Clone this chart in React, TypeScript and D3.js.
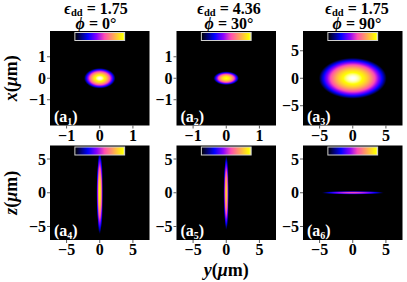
import React, { useMemo } from "react";
import * as d3 from "d3";

// ---- data ----
const epsValues = ["1.75", "4.36", "1.75"];
const phiValues = ["0", "30", "90"];
const panelIndex = ["1", "2", "3", "4", "5", "6"];
// horizontal coordinate (y, μm) half-widths of each condensate
const radiusH = [0.47, 0.38, 5.1, 0.47, 0.37, 4.7];
// vertical coordinate (x or z, μm) half-widths
const radiusV = [0.47, 0.31, 3.7, 6.1, 5.5, 0.24];
// peak density (colour index 0..1)
const peakValues = [1.0, 0.93, 1.0, 0.9, 0.84, 0.58];
const hDomains: [number, number][] = [[-1.5, 1.5], [-1.5, 1.5], [-7.5, 7.5], [-7.5, 7.5], [-7.5, 7.5], [-7.5, 7.5]];
const vDomains: [number, number][] = [[-2.2, 2.2], [-2.2, 2.2], [-8.6, 8.6], [-7, 7], [-7, 7], [-7, 7]];
const hTicks = [[-1, 0, 1], [-1, 0, 1], [-5, 0, 5], [-5, 0, 5], [-5, 0, 5], [-5, 0, 5]];
const vTicks = [[-1, 0, 1], [-1, 0, 1], [-5, 0, 5], [-5, 0, 5], [-5, 0, 5], [-5, 0, 5]];

const W = 407, H = 282;
const colX = [50, 176.5, 303];
const rowY = [31, 145.5];
const PW = 99.5, PH = 94.5;

const FONT = "'Liberation Serif', 'DejaVu Serif', serif";

function gnuplot2(t: number): [number, number, number] {
  const c = (v: number) => Math.max(0, Math.min(1, v));
  const r = c(t / 0.32 - 0.78125);
  const g = c(2 * t - 0.84);
  let b: number;
  if (t < 0.25) b = 4 * t;
  else if (t < 0.42) b = 1;
  else if (t < 0.92) b = -2 * t + 1.84;
  else b = t / 0.08 - 11.5;
  b = c(b);
  return [r * 255, g * 255, b * 255];
}

function makeImage(i: number, pw: number, ph: number): string {
  const S = 3;
  const w = Math.round(pw * S), h = Math.round(ph * S);
  const canvas = document.createElement("canvas");
  canvas.width = w; canvas.height = h;
  const ctx = canvas.getContext("2d")!;
  const img = ctx.createImageData(w, h);
  const xs = d3.scaleLinear().domain([0, w]).range(hDomains[i]);
  const ys = d3.scaleLinear().domain([0, h]).range([vDomains[i][1], vDomains[i][0]]);
  for (let py = 0; py < h; py++) {
    for (let px = 0; px < w; px++) {
      const x = xs(px + 0.5), y = ys(py + 0.5);
      const q = (x / radiusH[i]) ** 2 + (y / radiusV[i]) ** 2;
      const n = q < 1 ? peakValues[i] * (1 - q) : 0;
      const [r, g, b] = gnuplot2(n);
      const k = (py * w + px) * 4;
      img.data[k] = r; img.data[k + 1] = g; img.data[k + 2] = b; img.data[k + 3] = 255;
    }
  }
  ctx.putImageData(img, 0, 0);
  return canvas.toDataURL();
}

function makeBar(): string {
  const w = 200, h = 4;
  const canvas = document.createElement("canvas");
  canvas.width = w; canvas.height = h;
  const ctx = canvas.getContext("2d")!;
  const img = ctx.createImageData(w, h);
  for (let px = 0; px < w; px++) {
    const [r, g, b] = gnuplot2((px / (w - 1)) * 0.96);
    for (let py = 0; py < h; py++) {
      const k = (py * w + px) * 4;
      img.data[k] = r; img.data[k + 1] = g; img.data[k + 2] = b; img.data[k + 3] = 255;
    }
  }
  ctx.putImageData(img, 0, 0);
  return canvas.toDataURL();
}

export default function App() {
  const images = useMemo(() => panelIndex.map((_, i) => makeImage(i, PW, PH)), []);
  const bar = useMemo(() => makeBar(), []);
  const titleCx = [96, 229, 357];

  return (
    <svg width={W} height={H} style={{ display: "block", position: "absolute", left: 0, top: 0 }} fontFamily={FONT}>
      <rect width={W} height={H} fill="#fff" />
      {epsValues.map((e, c) => (
        <g key={"t" + c}>
          <text x={titleCx[c]} y={14} textAnchor="middle" fontSize={16} fontWeight="bold">
            <tspan fontStyle="italic">ϵ</tspan>
            <tspan fontSize={10.5} dy={1.5}>dd</tspan>
            <tspan dy={-1.5}>{" = " + e}</tspan>
          </text>
          <text x={titleCx[c]} y={28.5} textAnchor="middle" fontSize={16} fontWeight="bold">
            <tspan fontStyle="italic">ϕ</tspan>
            <tspan>{" = " + phiValues[c] + "°"}</tspan>
          </text>
        </g>
      ))}
      {panelIndex.map((lab, i) => {
        const c = i % 3, r = Math.floor(i / 3);
        const x0 = colX[c], y0 = rowY[r];
        const xs = d3.scaleLinear().domain(hDomains[i]).range([x0, x0 + PW]);
        const ys = d3.scaleLinear().domain(vDomains[i]).range([y0 + PH, y0]);
        return (
          <g key={"p" + i}>
            <image href={images[i]} x={x0} y={y0} width={PW} height={PH} preserveAspectRatio="none" />
            <image href={bar} x={x0 + PW * 0.25} y={y0 + 1.5} width={PW * 0.5} height={8} preserveAspectRatio="none" />
            <rect x={x0 + PW * 0.25} y={y0 + 1.5} width={PW * 0.5} height={8} fill="none" stroke="#d0d0d0" strokeWidth={1} />
            <text x={x0 + 4} y={y0 + PH - 4} fill="#fff" fontSize={16} fontWeight="bold">
              (a<tspan fontSize={10} dy={3}>{lab}</tspan><tspan dy={-3}>)</tspan>
            </text>
            {hTicks[i].map((t) => (
              <g key={"h" + t}>
                <line x1={xs(t)} x2={xs(t)} y1={y0 + PH} y2={y0 + PH + 3} stroke="#333" strokeWidth={0.8} />
                <text x={xs(t)} y={y0 + PH + 15} textAnchor="middle" fontSize={16} fontWeight="bold">
                  {t < 0 ? "\u2212" + Math.abs(t) : String(t)}
                </text>
              </g>
            ))}
            {vTicks[i].map((t) => (
              <g key={"v" + t}>
                <line x1={x0 - 3} x2={x0} y1={ys(t)} y2={ys(t)} stroke="#333" strokeWidth={0.8} />
                <text x={x0 - 4} y={ys(t) + 5.5} textAnchor="end" fontSize={16} fontWeight="bold">
                  {t < 0 ? "\u2212" + Math.abs(t) : String(t)}
                </text>
              </g>
            ))}
          </g>
        );
      })}
      <text transform={`translate(17,${rowY[0] + PH / 2}) rotate(-90)`} textAnchor="middle" fontSize={18} fontWeight="bold">
        <tspan fontStyle="italic">x</tspan>(<tspan fontStyle="italic">μ</tspan>m)
      </text>
      <text transform={`translate(17,${rowY[1] + PH / 2}) rotate(-90)`} textAnchor="middle" fontSize={18} fontWeight="bold">
        <tspan fontStyle="italic">z</tspan>(<tspan fontStyle="italic">μ</tspan>m)
      </text>
      <text x={colX[1] + PW / 2} y={276} textAnchor="middle" fontSize={18} fontWeight="bold">
        <tspan fontStyle="italic">y</tspan>(<tspan fontStyle="italic">μ</tspan>m)
      </text>
    </svg>
  );
}
